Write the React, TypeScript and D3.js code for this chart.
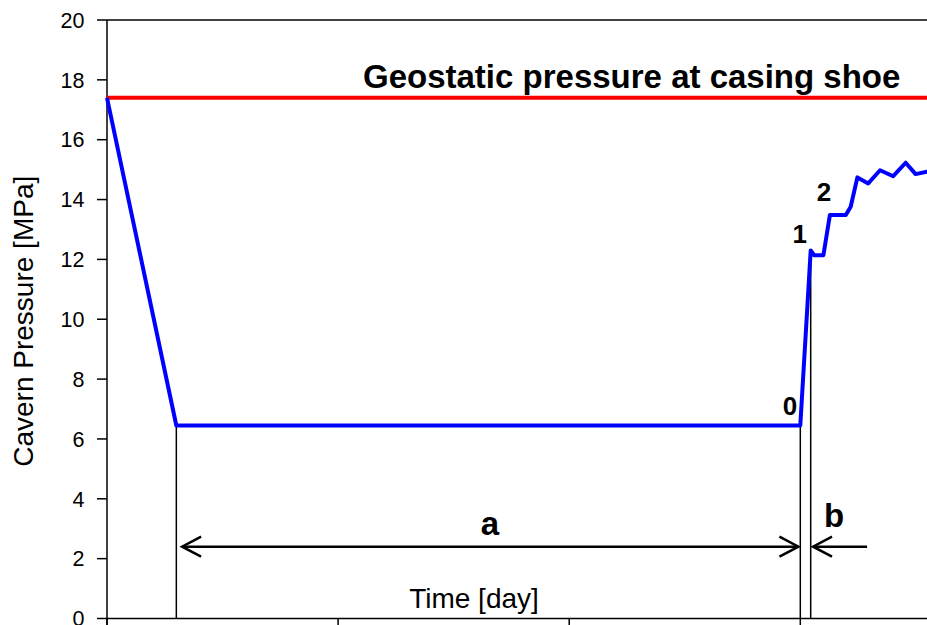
import React from "react";
import * as d3 from "d3";

const W = 927;
const H = 625;

const yTicks = [0, 2, 4, 6, 8, 10, 12, 14, 16, 18, 20];
const xTicks = [0, 100, 200, 300];

const pressureDays = [0, 30, 300, 304.5, 306, 310, 312.8, 319.7, 321.8, 324.7, 329.4, 330.9, 334.5, 340.2, 345.6, 349.9, 354.8, 360];
const pressureMPa = [17.4, 6.45, 6.45, 12.3, 12.14, 12.14, 13.48, 13.48, 13.76, 14.74, 14.54, 14.67, 14.98, 14.78, 15.23, 14.85, 14.93, 14.95];

const geostaticMPa = 17.4;
const markerDays = [30, 300, 304.5];
const markerTops = [6.45, 6.45, 12.3];

const arrowLevel = 2.4;
const arrowA = [32.5, 299.2];
const arrowB = [305.5, 328.9];

const pointLabels = ["0", "1", "2"];
const pointLabelDays = [295.5, 299.8, 310.2];
const pointLabelMPa = [6.8, 12.55, 13.95];

const x = d3.scaleLinear().domain([0, 360]).range([107, 107 + 360 * 2.311]);
const y = d3.scaleLinear().domain([0, 20]).range([618.5, 20]);

export default function App() {
  const line = d3
    .line<number>()
    .x((_, i) => x(pressureDays[i]))
    .y((v) => y(v));
  const pathD = line(pressureMPa) || "";
  const ay = y(arrowLevel);
  const head = (tipX: number, dir: number) =>
    `M${tipX - dir * 19},${ay - 10}L${tipX},${ay}L${tipX - dir * 19},${ay + 10}`;
  const font = "Liberation Sans, Arial, sans-serif";
  const x0 = x(0);
  return (
    <svg
      width={W}
      height={H}
      style={{ position: "absolute", left: 0, top: 0, background: "#fff" }}
      fontFamily={font}
    >
      {/* frame */}
      <line x1={x0} x2={W} y1={y(20)} y2={y(20)} stroke="#000" strokeWidth={1.5} />
      <line x1={x0} x2={x0} y1={y(20)} y2={H} stroke="#000" strokeWidth={1.5} />
      <line x1={x0} x2={W} y1={y(0)} y2={y(0)} stroke="#000" strokeWidth={1.5} />
      {yTicks.map((t) => (
        <g key={"y" + t}>
          <line x1={x0 - 10} x2={x0} y1={y(t)} y2={y(t)} stroke="#000" strokeWidth={1.5} />
          <text x={x0 - 22.5} y={y(t)} dy="0.36em" textAnchor="end" fontSize={21.5} fill="#000">
            {t}
          </text>
        </g>
      ))}
      {xTicks.map((t) => (
        <line key={"x" + t} x1={x(t)} x2={x(t)} y1={y(0)} y2={y(0) + 10} stroke="#000" strokeWidth={1.5} />
      ))}
      <text
        transform={`translate(33,${(y(0) + y(20)) / 2 + 2}) rotate(-90)`}
        textAnchor="middle"
        fontSize={28}
        fill="#000"
      >
        Cavern Pressure [MPa]
      </text>
      <text x={474} y={608} textAnchor="middle" fontSize={28} fill="#000">
        Time [day]
      </text>

      {/* marker verticals */}
      {markerDays.map((d, i) => (
        <line key={"m" + i} x1={x(d)} x2={x(d)} y1={y(markerTops[i])} y2={y(0)} stroke="#000" strokeWidth={1.5} />
      ))}

      {/* geostatic line */}
      <line x1={x0} x2={W} y1={y(geostaticMPa)} y2={y(geostaticMPa)} stroke="#ff0000" strokeWidth={4} />
      <text x={363} y={88} fontSize={33} fontWeight="bold" fill="#000">
        Geostatic pressure at casing shoe
      </text>

      {/* pressure curve */}
      <path d={pathD} fill="none" stroke="#0000ff" strokeWidth={4} strokeLinejoin="round" />

      {/* arrows */}
      <line x1={x(arrowA[0])} x2={x(arrowA[1])} y1={ay} y2={ay} stroke="#000" strokeWidth={2.5} />
      <path d={head(x(arrowA[0]), -1)} fill="none" stroke="#000" strokeWidth={2.5} />
      <path d={head(x(arrowA[1]), 1)} fill="none" stroke="#000" strokeWidth={2.5} />
      <line x1={x(arrowB[0])} x2={x(arrowB[1])} y1={ay} y2={ay} stroke="#000" strokeWidth={2.5} />
      <path d={head(x(arrowB[0]), -1)} fill="none" stroke="#000" strokeWidth={2.5} />

      <text x={490} y={535} textAnchor="middle" fontSize={33} fontWeight="bold" fill="#000">
        a
      </text>
      <text x={834} y={527} textAnchor="middle" fontSize={33} fontWeight="bold" fill="#000">
        b
      </text>
      {pointLabels.map((l, i) => (
        <text
          key={"p" + l}
          x={x(pointLabelDays[i])}
          y={y(pointLabelMPa[i])}
          textAnchor="middle"
          fontSize={26}
          fontWeight="bold"
          fill="#000"
        >
          {l}
        </text>
      ))}
    </svg>
  );
}
